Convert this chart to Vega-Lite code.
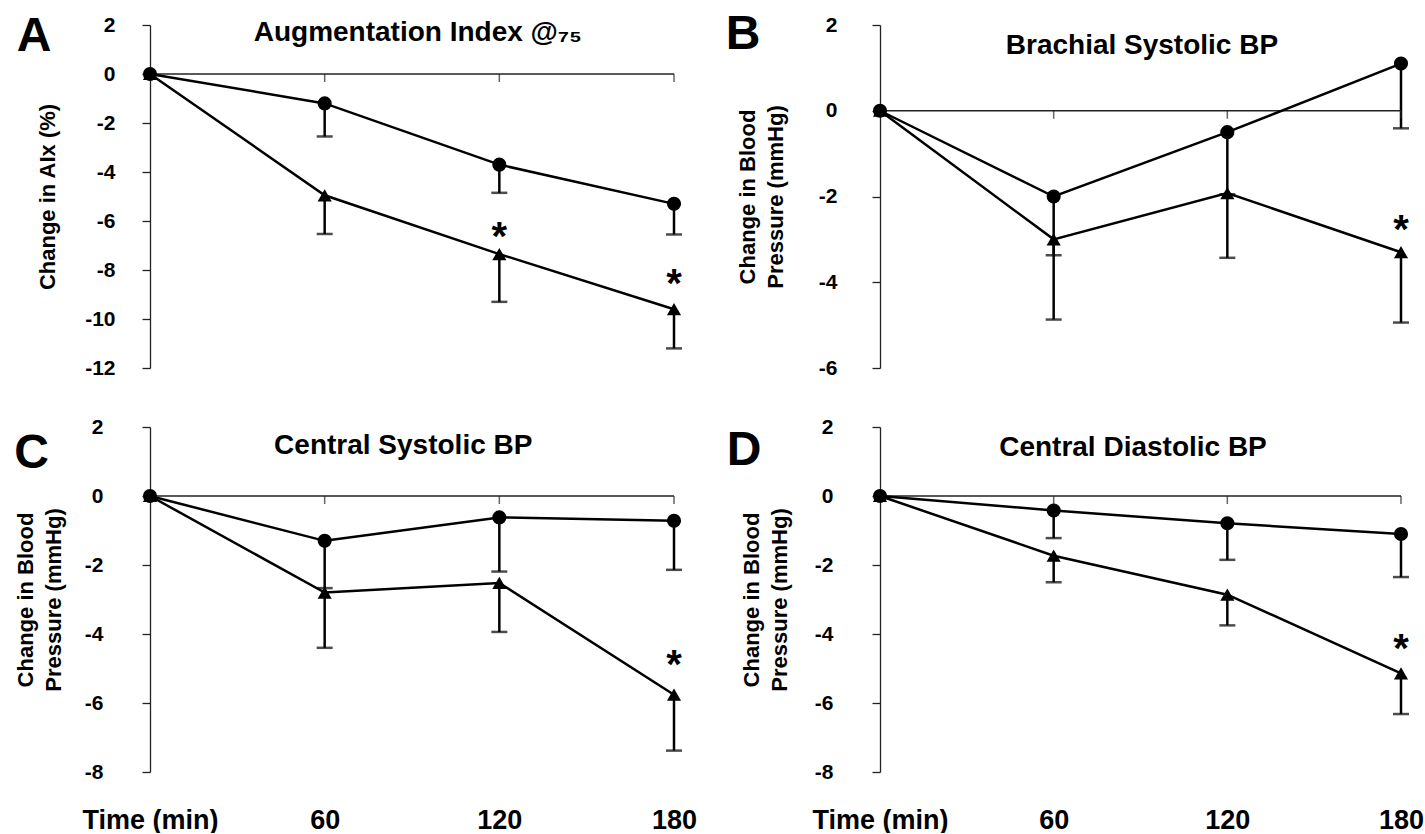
{
  "$schema": "https://vega.github.io/schema/vega-lite/v6.json",
  "background": "white",
  "padding": {"left": 14, "top": 10, "right": 0, "bottom": 0},
  "config": {
    "view": {"stroke": null},
    "font": "Liberation Sans",
    "axis": {"labelFont": "Liberation Sans", "titleFont": "Liberation Sans", "labelColor": "black", "titleColor": "black", "grid": false}
  },
  "datasets": {
    "pts": [
      {"panel": "A", "g": "tri", "t": 0, "v": 0, "lo": null},
      {"panel": "A", "g": "tri", "t": 60, "v": -4.95, "lo": -6.53},
      {"panel": "A", "g": "tri", "t": 120, "v": -7.35, "lo": -9.3},
      {"panel": "A", "g": "tri", "t": 180, "v": -9.6, "lo": -11.2},
      {"panel": "A", "g": "ctrl", "t": 0, "v": 0, "lo": null},
      {"panel": "A", "g": "ctrl", "t": 60, "v": -1.2, "lo": -2.55},
      {"panel": "A", "g": "ctrl", "t": 120, "v": -3.7, "lo": -4.85},
      {"panel": "A", "g": "ctrl", "t": 180, "v": -5.3, "lo": -6.55},
      {"panel": "B", "g": "tri", "t": 0, "v": 0, "lo": null},
      {"panel": "B", "g": "tri", "t": 60, "v": -3.0, "lo": -4.87},
      {"panel": "B", "g": "tri", "t": 120, "v": -1.92, "lo": -3.43},
      {"panel": "B", "g": "tri", "t": 180, "v": -3.3, "lo": -4.94},
      {"panel": "B", "g": "ctrl", "t": 0, "v": 0, "lo": null},
      {"panel": "B", "g": "ctrl", "t": 60, "v": -2.0, "lo": -3.37},
      {"panel": "B", "g": "ctrl", "t": 120, "v": -0.5, "lo": -1.95},
      {"panel": "B", "g": "ctrl", "t": 180, "v": 1.1, "lo": -0.41},
      {"panel": "C", "g": "tri", "t": 0, "v": 0, "lo": null},
      {"panel": "C", "g": "tri", "t": 60, "v": -2.8, "lo": -4.4},
      {"panel": "C", "g": "tri", "t": 120, "v": -2.52, "lo": -3.94},
      {"panel": "C", "g": "tri", "t": 180, "v": -5.76, "lo": -7.38},
      {"panel": "C", "g": "ctrl", "t": 0, "v": 0, "lo": null},
      {"panel": "C", "g": "ctrl", "t": 60, "v": -1.3, "lo": -2.67},
      {"panel": "C", "g": "ctrl", "t": 120, "v": -0.62, "lo": -2.19},
      {"panel": "C", "g": "ctrl", "t": 180, "v": -0.72, "lo": -2.14},
      {"panel": "D", "g": "tri", "t": 0, "v": 0, "lo": null},
      {"panel": "D", "g": "tri", "t": 60, "v": -1.73, "lo": -2.5},
      {"panel": "D", "g": "tri", "t": 120, "v": -2.86, "lo": -3.75},
      {"panel": "D", "g": "tri", "t": 180, "v": -5.14, "lo": -6.32},
      {"panel": "D", "g": "ctrl", "t": 0, "v": 0, "lo": null},
      {"panel": "D", "g": "ctrl", "t": 60, "v": -0.42, "lo": -1.22},
      {"panel": "D", "g": "ctrl", "t": 120, "v": -0.79, "lo": -1.85},
      {"panel": "D", "g": "ctrl", "t": 180, "v": -1.1, "lo": -2.35}
    ],
    "stars": [
      {"panel": "A", "t": 120, "y": -6.33},
      {"panel": "A", "t": 180, "y": -8.24},
      {"panel": "B", "t": 180, "y": -2.6},
      {"panel": "C", "t": 180, "y": -4.68},
      {"panel": "D", "t": 180, "y": -4.2}
    ]
  },
  "columns": 2,
  "bounds": "flush",
  "spacing": {"row": 59, "column": 206},
  "concat": [
    {
      "width": 524, "height": 343,
      "layer": [
        {"data": {"name": "pts"}, "transform": [{"filter": "datum.panel === 'A' && datum.lo != null"}],
         "mark": {"type": "rule", "color": "black", "strokeWidth": 2.5},
         "encoding": {
           "x": {"field": "t", "type": "quantitative", "scale": {"domain": [0, 180], "nice": false, "zero": false}, "axis": null},
           "y": {"field": "v", "type": "quantitative", "scale": {"domain": [-12, 2], "nice": false, "zero": false},
                 "axis": {"values": [-12, -10, -8, -6, -4, -2, 0, 2], "labelExpr": "replace(datum.label, '−', '-')", "domain": true, "domainColor": "#222", "domainWidth": 1.3, "ticks": true, "tickSize": 8, "tickColor": "#222", "tickWidth": 1.3, "labelFontSize": 21, "labelFontWeight": "bold", "labelPadding": 27, "labelFlush": false, "labelOverlap": false, "title": "Change in AIx (%)", "titleFontSize": 22, "titleFontWeight": "bold", "titlePadding": 25}},
           "y2": {"field": "lo"}
         }},
        {"data": {"name": "pts"}, "transform": [{"filter": "datum.panel === 'A' && datum.lo != null"}],
         "mark": {"type": "tick", "orient": "horizontal", "size": 16, "thickness": 2.5, "color": "black"},
         "encoding": {"x": {"field": "t", "type": "quantitative"}, "y": {"field": "lo", "type": "quantitative"}}},
        {"data": {"values": [{}]}, "mark": {"type": "rule", "color": "#222", "strokeWidth": 1.3},
         "encoding": {"y": {"datum": 0, "type": "quantitative"}}},
        {"data": {"name": "pts"}, "transform": [{"filter": "datum.panel === 'A' && datum.g === 'ctrl' && datum.t > 0"}],
         "mark": {"type": "tick", "orient": "vertical", "size": 8, "thickness": 1.5, "color": "#222", "yOffset": 4},
         "encoding": {"x": {"field": "t", "type": "quantitative"}, "y": {"datum": 0, "type": "quantitative"}}},
        {"data": {"name": "pts"}, "transform": [{"filter": "datum.panel === 'A'"}],
         "mark": {"type": "line", "color": "black", "strokeWidth": 2.5},
         "encoding": {"x": {"field": "t", "type": "quantitative"}, "y": {"field": "v", "type": "quantitative"}, "detail": {"field": "g"}}},
        {"data": {"name": "pts"}, "transform": [{"filter": "datum.panel === 'A'"}],
         "mark": {"type": "point", "filled": true, "opacity": 1, "size": 200, "color": "black"},
         "encoding": {"x": {"field": "t", "type": "quantitative"}, "y": {"field": "v", "type": "quantitative"},
           "shape": {"field": "g", "type": "nominal", "scale": {"domain": ["tri", "ctrl"], "range": ["triangle-up", "circle"]}, "legend": null}}},
        {"data": {"name": "stars"}, "transform": [{"filter": "datum.panel === 'A'"}],
         "mark": {"type": "text", "text": "*", "fontSize": 40, "fontWeight": "bold", "baseline": "alphabetic", "dy": 21, "align": "center", "color": "black"},
         "encoding": {"x": {"field": "t", "type": "quantitative"}, "y": {"field": "y", "type": "quantitative"}}},
        {"data": {"values": [{}]},
         "mark": {"type": "text", "text": "A", "fontSize": 48, "fontWeight": "bold", "baseline": "alphabetic", "align": "center", "color": "black"},
         "encoding": {"x": {"datum": -39.8, "type": "quantitative"}, "y": {"datum": 0.95, "type": "quantitative"}}},
        {"data": {"values": [{}]},
         "mark": {"type": "text", "text": "Augmentation Index @₇₅", "fontSize": 28, "fontWeight": "bold", "baseline": "alphabetic", "align": "center", "color": "black"},
         "encoding": {"x": {"datum": 92, "type": "quantitative"}, "y": {"datum": 1.34, "type": "quantitative"}}}
      ]
    },
    {
      "width": 521, "height": 343,
      "layer": [
        {"data": {"name": "pts"}, "transform": [{"filter": "datum.panel === 'B' && datum.lo != null"}],
         "mark": {"type": "rule", "color": "black", "strokeWidth": 2.5},
         "encoding": {
           "x": {"field": "t", "type": "quantitative", "scale": {"domain": [0, 180], "nice": false, "zero": false}, "axis": null},
           "y": {"field": "v", "type": "quantitative", "scale": {"domain": [-6, 2], "nice": false, "zero": false},
                 "axis": {"values": [-6, -4, -2, 0, 2], "labelExpr": "replace(datum.label, '−', '-')", "domain": true, "domainColor": "#222", "domainWidth": 1.3, "ticks": true, "tickSize": 8, "tickColor": "#222", "tickWidth": 1.3, "labelFontSize": 21, "labelFontWeight": "bold", "labelPadding": 35, "labelFlush": false, "labelOverlap": false, "title": ["Change in Blood", "Pressure (mmHg)"], "titleLineHeight": 28, "titleFontSize": 22, "titleFontWeight": "bold", "titlePadding": 31}},
           "y2": {"field": "lo"}
         }},
        {"data": {"name": "pts"}, "transform": [{"filter": "datum.panel === 'B' && datum.lo != null"}],
         "mark": {"type": "tick", "orient": "horizontal", "size": 16, "thickness": 2.5, "color": "black"},
         "encoding": {"x": {"field": "t", "type": "quantitative"}, "y": {"field": "lo", "type": "quantitative"}}},
        {"data": {"values": [{}]}, "mark": {"type": "rule", "color": "#222", "strokeWidth": 1.3},
         "encoding": {"y": {"datum": 0, "type": "quantitative"}}},
        {"data": {"name": "pts"}, "transform": [{"filter": "datum.panel === 'B' && datum.g === 'ctrl' && datum.t > 0"}],
         "mark": {"type": "tick", "orient": "vertical", "size": 8, "thickness": 1.5, "color": "#222", "yOffset": 4},
         "encoding": {"x": {"field": "t", "type": "quantitative"}, "y": {"datum": 0, "type": "quantitative"}}},
        {"data": {"name": "pts"}, "transform": [{"filter": "datum.panel === 'B'"}],
         "mark": {"type": "line", "color": "black", "strokeWidth": 2.5},
         "encoding": {"x": {"field": "t", "type": "quantitative"}, "y": {"field": "v", "type": "quantitative"}, "detail": {"field": "g"}}},
        {"data": {"name": "pts"}, "transform": [{"filter": "datum.panel === 'B'"}],
         "mark": {"type": "point", "filled": true, "opacity": 1, "size": 200, "color": "black"},
         "encoding": {"x": {"field": "t", "type": "quantitative"}, "y": {"field": "v", "type": "quantitative"},
           "shape": {"field": "g", "type": "nominal", "scale": {"domain": ["tri", "ctrl"], "range": ["triangle-up", "circle"]}, "legend": null}}},
        {"data": {"name": "stars"}, "transform": [{"filter": "datum.panel === 'B'"}],
         "mark": {"type": "text", "text": "*", "fontSize": 40, "fontWeight": "bold", "baseline": "alphabetic", "dy": 21, "align": "center", "color": "black"},
         "encoding": {"x": {"field": "t", "type": "quantitative"}, "y": {"field": "y", "type": "quantitative"}}},
        {"data": {"values": [{}]},
         "mark": {"type": "text", "text": "B", "fontSize": 48, "fontWeight": "bold", "baseline": "alphabetic", "align": "center", "color": "black"},
         "encoding": {"x": {"datum": -47.3, "type": "quantitative"}, "y": {"datum": 1.45, "type": "quantitative"}}},
        {"data": {"values": [{}]},
         "mark": {"type": "text", "text": "Brachial Systolic BP", "fontSize": 28, "fontWeight": "bold", "baseline": "alphabetic", "align": "center", "color": "black"},
         "encoding": {"x": {"datum": 90.5, "type": "quantitative"}, "y": {"datum": 1.33, "type": "quantitative"}}}
      ]
    },
    {
      "width": 524, "height": 345,
      "layer": [
        {"data": {"name": "pts"}, "transform": [{"filter": "datum.panel === 'C' && datum.lo != null"}],
         "mark": {"type": "rule", "color": "black", "strokeWidth": 2.5},
         "encoding": {
           "x": {"field": "t", "type": "quantitative", "scale": {"domain": [0, 180], "nice": false, "zero": false},
                 "axis": {"values": [0, 60, 120, 180], "domain": false, "ticks": false, "labelExpr": "datum.value === 0 ? 'Time (min)' : datum.label", "labelFontSize": 27, "labelFontWeight": "bold", "labelPadding": 35, "labelFlush": false, "labelOverlap": false, "title": null}},
           "y": {"field": "v", "type": "quantitative", "scale": {"domain": [-8, 2], "nice": false, "zero": false},
                 "axis": {"values": [-8, -6, -4, -2, 0, 2], "labelExpr": "replace(datum.label, '−', '-')", "domain": true, "domainColor": "#222", "domainWidth": 1.3, "ticks": true, "tickSize": 8, "tickColor": "#222", "tickWidth": 1.3, "labelFontSize": 21, "labelFontWeight": "bold", "labelPadding": 39, "labelFlush": false, "labelOverlap": false, "title": ["Change in Blood", "Pressure (mmHg)"], "titleLineHeight": 28, "titleFontSize": 22, "titleFontWeight": "bold", "titlePadding": 19}},
           "y2": {"field": "lo"}
         }},
        {"data": {"name": "pts"}, "transform": [{"filter": "datum.panel === 'C' && datum.lo != null"}],
         "mark": {"type": "tick", "orient": "horizontal", "size": 16, "thickness": 2.5, "color": "black"},
         "encoding": {"x": {"field": "t", "type": "quantitative"}, "y": {"field": "lo", "type": "quantitative"}}},
        {"data": {"values": [{}]}, "mark": {"type": "rule", "color": "#222", "strokeWidth": 1.3},
         "encoding": {"y": {"datum": 0, "type": "quantitative"}}},
        {"data": {"name": "pts"}, "transform": [{"filter": "datum.panel === 'C' && datum.g === 'ctrl' && datum.t > 0"}],
         "mark": {"type": "tick", "orient": "vertical", "size": 8, "thickness": 1.5, "color": "#222", "yOffset": 4},
         "encoding": {"x": {"field": "t", "type": "quantitative"}, "y": {"datum": 0, "type": "quantitative"}}},
        {"data": {"name": "pts"}, "transform": [{"filter": "datum.panel === 'C'"}],
         "mark": {"type": "line", "color": "black", "strokeWidth": 2.5},
         "encoding": {"x": {"field": "t", "type": "quantitative"}, "y": {"field": "v", "type": "quantitative"}, "detail": {"field": "g"}}},
        {"data": {"name": "pts"}, "transform": [{"filter": "datum.panel === 'C'"}],
         "mark": {"type": "point", "filled": true, "opacity": 1, "size": 200, "color": "black"},
         "encoding": {"x": {"field": "t", "type": "quantitative"}, "y": {"field": "v", "type": "quantitative"},
           "shape": {"field": "g", "type": "nominal", "scale": {"domain": ["tri", "ctrl"], "range": ["triangle-up", "circle"]}, "legend": null}}},
        {"data": {"name": "stars"}, "transform": [{"filter": "datum.panel === 'C'"}],
         "mark": {"type": "text", "text": "*", "fontSize": 40, "fontWeight": "bold", "baseline": "alphabetic", "dy": 21, "align": "center", "color": "black"},
         "encoding": {"x": {"field": "t", "type": "quantitative"}, "y": {"field": "y", "type": "quantitative"}}},
        {"data": {"values": [{}]},
         "mark": {"type": "text", "text": "C", "fontSize": 48, "fontWeight": "bold", "baseline": "alphabetic", "align": "center", "color": "black"},
         "encoding": {"x": {"datum": -40.7, "type": "quantitative"}, "y": {"datum": 0.8, "type": "quantitative"}}},
        {"data": {"values": [{}]},
         "mark": {"type": "text", "text": "Central Systolic BP", "fontSize": 28, "fontWeight": "bold", "baseline": "alphabetic", "align": "center", "color": "black"},
         "encoding": {"x": {"datum": 87, "type": "quantitative"}, "y": {"datum": 1.22, "type": "quantitative"}}}
      ]
    },
    {
      "width": 521, "height": 345,
      "layer": [
        {"data": {"name": "pts"}, "transform": [{"filter": "datum.panel === 'D' && datum.lo != null"}],
         "mark": {"type": "rule", "color": "black", "strokeWidth": 2.5},
         "encoding": {
           "x": {"field": "t", "type": "quantitative", "scale": {"domain": [0, 180], "nice": false, "zero": false},
                 "axis": {"values": [0, 60, 120, 180], "domain": false, "ticks": false, "labelExpr": "datum.value === 0 ? 'Time (min)' : datum.label", "labelFontSize": 27, "labelFontWeight": "bold", "labelPadding": 35, "labelFlush": false, "labelOverlap": false, "title": null}},
           "y": {"field": "v", "type": "quantitative", "scale": {"domain": [-8, 2], "nice": false, "zero": false},
                 "axis": {"values": [-8, -6, -4, -2, 0, 2], "labelExpr": "replace(datum.label, '−', '-')", "domain": true, "domainColor": "#222", "domainWidth": 1.3, "ticks": true, "tickSize": 8, "tickColor": "#222", "tickWidth": 1.3, "labelFontSize": 21, "labelFontWeight": "bold", "labelPadding": 39, "labelFlush": false, "labelOverlap": false, "title": ["Change in Blood", "Pressure (mmHg)"], "titleLineHeight": 28, "titleFontSize": 22, "titleFontWeight": "bold", "titlePadding": 23}},
           "y2": {"field": "lo"}
         }},
        {"data": {"name": "pts"}, "transform": [{"filter": "datum.panel === 'D' && datum.lo != null"}],
         "mark": {"type": "tick", "orient": "horizontal", "size": 16, "thickness": 2.5, "color": "black"},
         "encoding": {"x": {"field": "t", "type": "quantitative"}, "y": {"field": "lo", "type": "quantitative"}}},
        {"data": {"values": [{}]}, "mark": {"type": "rule", "color": "#222", "strokeWidth": 1.3},
         "encoding": {"y": {"datum": 0, "type": "quantitative"}}},
        {"data": {"name": "pts"}, "transform": [{"filter": "datum.panel === 'D' && datum.g === 'ctrl' && datum.t > 0"}],
         "mark": {"type": "tick", "orient": "vertical", "size": 8, "thickness": 1.5, "color": "#222", "yOffset": 4},
         "encoding": {"x": {"field": "t", "type": "quantitative"}, "y": {"datum": 0, "type": "quantitative"}}},
        {"data": {"name": "pts"}, "transform": [{"filter": "datum.panel === 'D'"}],
         "mark": {"type": "line", "color": "black", "strokeWidth": 2.5},
         "encoding": {"x": {"field": "t", "type": "quantitative"}, "y": {"field": "v", "type": "quantitative"}, "detail": {"field": "g"}}},
        {"data": {"name": "pts"}, "transform": [{"filter": "datum.panel === 'D'"}],
         "mark": {"type": "point", "filled": true, "opacity": 1, "size": 200, "color": "black"},
         "encoding": {"x": {"field": "t", "type": "quantitative"}, "y": {"field": "v", "type": "quantitative"},
           "shape": {"field": "g", "type": "nominal", "scale": {"domain": ["tri", "ctrl"], "range": ["triangle-up", "circle"]}, "legend": null}}},
        {"data": {"name": "stars"}, "transform": [{"filter": "datum.panel === 'D'"}],
         "mark": {"type": "text", "text": "*", "fontSize": 40, "fontWeight": "bold", "baseline": "alphabetic", "dy": 21, "align": "center", "color": "black"},
         "encoding": {"x": {"field": "t", "type": "quantitative"}, "y": {"field": "y", "type": "quantitative"}}},
        {"data": {"values": [{}]},
         "mark": {"type": "text", "text": "D", "fontSize": 48, "fontWeight": "bold", "baseline": "alphabetic", "align": "center", "color": "black"},
         "encoding": {"x": {"datum": -47, "type": "quantitative"}, "y": {"datum": 0.9, "type": "quantitative"}}},
        {"data": {"values": [{}]},
         "mark": {"type": "text", "text": "Central Diastolic BP", "fontSize": 28, "fontWeight": "bold", "baseline": "alphabetic", "align": "center", "color": "black"},
         "encoding": {"x": {"datum": 87.4, "type": "quantitative"}, "y": {"datum": 1.16, "type": "quantitative"}}}
      ]
    }
  ]
}
